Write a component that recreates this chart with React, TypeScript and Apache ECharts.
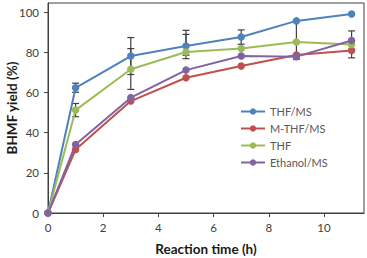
import React, { useEffect, useRef } from "react";
import * as echarts from "echarts";

const times = [0, 1, 3, 5, 7, 9, 11];
const seriesNames = ["THF/MS", "M-THF/MS", "THF", "Ethanol/MS"];
const colors = ["#4F81BD", "#C0504D", "#9BBB59", "#8064A2"];
const thfMs = [0, 62.3, 78.1, 83.1, 87.6, 95.6, 99];
const mthfMs = [0, 31.6, 55.7, 67.3, 73.1, 78.6, 80.9];
const thf = [0, 51.2, 71.5, 80.1, 81.8, 85.1, 83.9];
const ethanolMs = [0, 34.1, 57.4, 71.1, 78.1, 77.8, 85.8];
const values = [thfMs, mthfMs, thf, ethanolMs];

// error bars: x, low, high
const errX = [1, 3, 5, 7, 9, 1, 3, 5, 11];
const errLow = [60.1, 68.9, 76.8, 84.0, 76.5, 47.9, 61.5, 78.5, 77.2];
const errHigh = [64.6, 87.3, 90.9, 91.1, 95.6, 54.5, 81.8, 88.9, 90.6];

const yTicks = [0, 20, 40, 60, 80, 100];
const xTicks = [0, 2, 4, 6, 8, 10];

export default function App() {
  const ref = useRef<HTMLDivElement>(null);
  useEffect(() => {
    if (!ref.current) return;
    const chart = echarts.init(ref.current, undefined, { renderer: "svg" });
    const font = "Lato, 'Open Sans', sans-serif";
    const lineSeries = seriesNames.map((name, i) => ({
      name,
      type: "line",
      data: times.map((t, j) => [t, values[i][j]]),
      symbol: "circle",
      symbolSize: 7.5,
      showSymbol: true,
      itemStyle: { color: colors[i] },
      lineStyle: { color: colors[i], width: 2 },
      z: 3,
    }));
    const errSeries = {
      type: "custom",
      silent: true,
      z: 2,
      data: errX.map((x, i) => [x, errLow[i], errHigh[i]]),
      renderItem: (params: any, api: any) => {
        const x = api.value(0);
        const lo = api.coord([x, api.value(1)]);
        const hi = api.coord([x, api.value(2)]);
        const w = 3.5;
        const st = { stroke: "#404040", lineWidth: 1.2 };
        return {
          type: "group",
          children: [
            { type: "line", shape: { x1: lo[0], y1: lo[1], x2: hi[0], y2: hi[1] }, style: st },
            { type: "line", shape: { x1: lo[0] - w, y1: lo[1], x2: lo[0] + w, y2: lo[1] }, style: st },
            { type: "line", shape: { x1: hi[0] - w, y1: hi[1], x2: hi[0] + w, y2: hi[1] }, style: st },
          ],
        };
      },
    };
    chart.setOption({
      animation: false,
      backgroundColor: "#fff",
      grid: {
        left: 48,
        right: 3,
        top: 3,
        bottom: 45,
        show: true,
        borderColor: "#404040",
        borderWidth: 1,
        containLabel: false,
        outerBoundsMode: "none",
      },
      legend: {
        data: seriesNames,
        orient: "vertical",
        left: 235,
        top: 101,
        itemWidth: 24,
        itemHeight: 8,
        itemGap: 6,
        textStyle: { color: "#595959", fontSize: 11, fontFamily: font },
      },
      xAxis: {
        type: "value",
        min: 0,
        max: 11.45,
        interval: 2,
        name: "Reaction time (h)",
        nameLocation: "middle",
        nameGap: 29,
        nameMoveOverlap: false,
        nameTextStyle: { color: "#1a1a1a", fontSize: 13.5, fontWeight: "bold", fontFamily: font },
        axisLine: { show: true, lineStyle: { color: "#404040", width: 1 } },
        axisTick: { show: true, length: 4, inside: false, customValues: xTicks, lineStyle: { color: "#404040" } },
        axisLabel: { customValues: xTicks, color: "#404040", fontSize: 11.5, margin: 8, fontFamily: font },
        splitLine: { show: false },
      },
      yAxis: {
        type: "value",
        min: 0,
        max: 104.5,
        interval: 20,
        name: "BHMF yield (%)",
        nameLocation: "middle",
        nameGap: 29,
        nameMoveOverlap: false,
        nameRotate: 90,
        nameTextStyle: { color: "#1a1a1a", fontSize: 13.5, fontWeight: "bold", fontFamily: font },
        axisLine: { show: true, lineStyle: { color: "#404040", width: 1 } },
        axisTick: { show: true, length: 4, inside: false, customValues: yTicks, lineStyle: { color: "#404040" } },
        axisLabel: { customValues: yTicks, color: "#404040", fontSize: 11.5, margin: 9, fontFamily: font },
        splitLine: { show: false },
      },
      series: [errSeries, ...lineSeries],
    });
    return () => chart.dispose();
  }, []);
  return (
    <div
      ref={ref}
      style={{ position: "fixed", left: 0, top: 0, width: 367, height: 258 }}
    />
  );
}
